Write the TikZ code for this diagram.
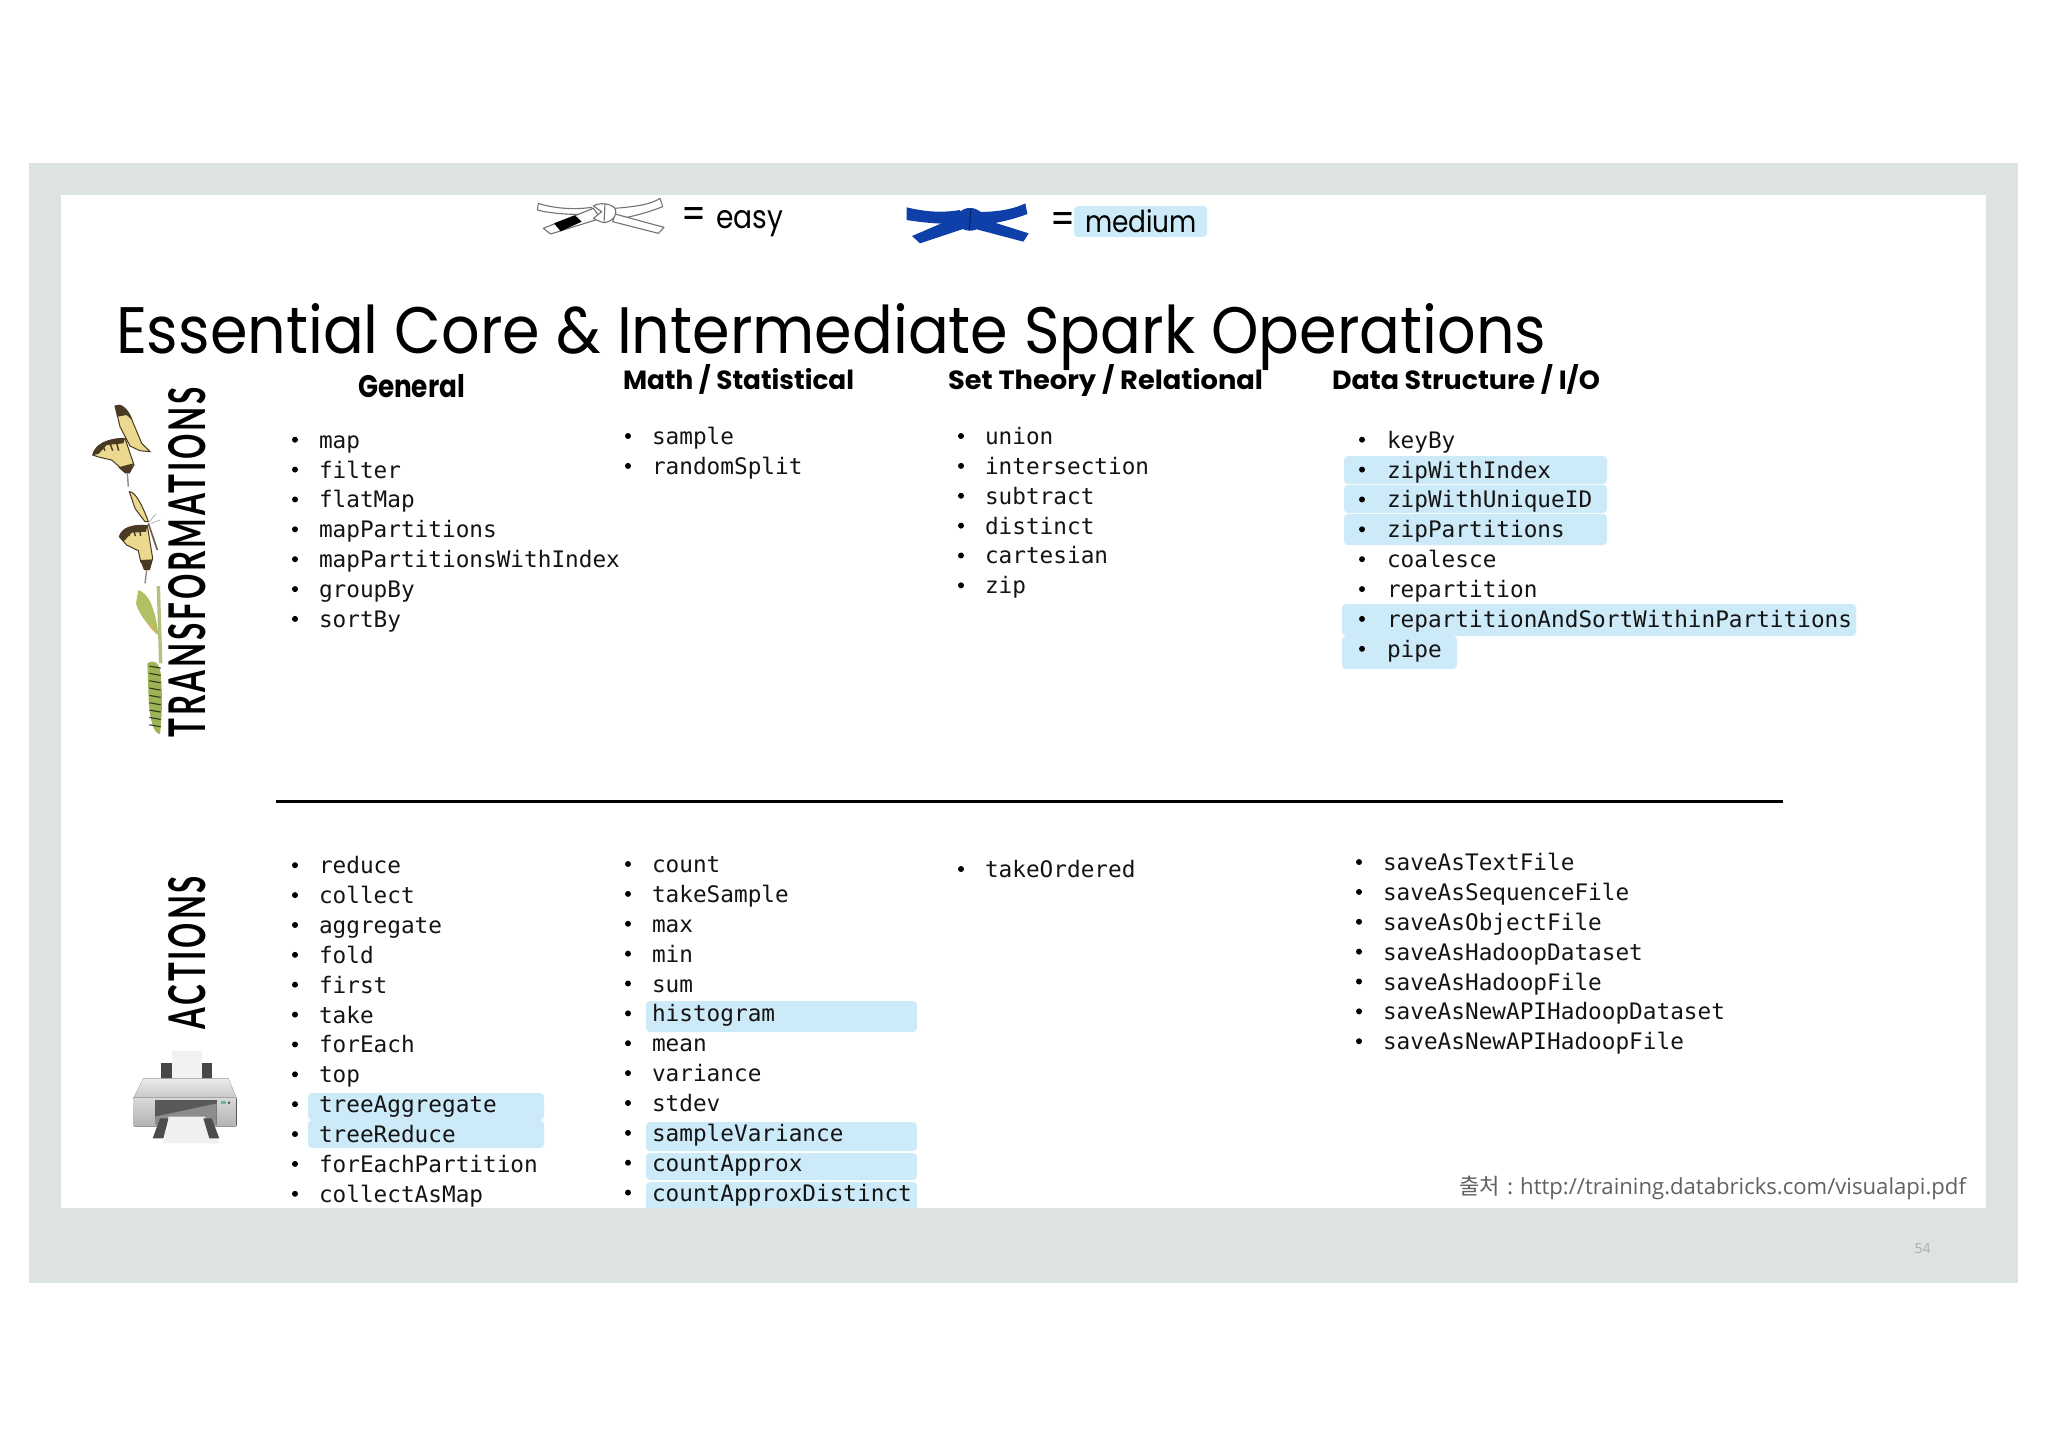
\documentclass[tikz,border=0pt]{standalone}
\usepackage{fontspec}
\usepackage{graphicx}
\setmainfont{Poppins}
\setmonofont{DejaVu Sans Mono}
\newfontfamily\latofont[LetterSpace=9]{Lato}
\newfontfamily\cjkfont{Noto Sans CJK KR}
\newfontfamily\notefont{Open Sans}
\newdimen\pxu \pxu=0.5pt
\definecolor{framegrey}{HTML}{DDE3E2}
\definecolor{hilite}{HTML}{CDEAF8}
\definecolor{beltblue}{HTML}{0F3FA8}
\definecolor{wingyellow}{HTML}{EBD98F}
\definecolor{wingbrown}{HTML}{4A3A24}
\definecolor{catgreen}{HTML}{9DB356}
\definecolor{catdark}{HTML}{2F3A1A}
\definecolor{chrysgreen}{HTML}{AFC163}
\definecolor{stemgreen}{HTML}{B3C184}
\tikzset{
  hl/.style={fill=hilite,rounded corners=4\pxu},
  fit text/.style={inner sep=0pt,outer sep=0pt,anchor=base west},
  item text/.style={inner sep=0pt,anchor=base west,font=\ttfamily\fontsize{11.36pt}{13pt}\selectfont,text=black!92},
  item dot/.style={circle,fill=black,inner sep=0pt,minimum size=3pt},
  belt w/.style={fill=white,draw=black!55,line width=1.1\pxu,line join=round},
  belt b/.style={fill=beltblue,line join=round},
}
% name, bullet x, text x, first baseline, items
\newcommand{\opslist}[5]{%
  \foreach \itm [count=\n from 0] in {#5}{%
    \pgfmathsetmacro{\yy}{#4+29.87*\n}
    \node[item dot] (#1d\n) at (#2,\yy-8.0) {};
    \node[item text] (#1t\n) at (#3-0.4,\yy+0.5) {\itm};
  }%
}
\newcommand{\fitted}[3]{\resizebox{#1\pxu}{#2\pxu}{#3}}
\begin{document}
\begin{tikzpicture}[x=0.5pt,y=-0.5pt]
\useasboundingbox (0,0) rectangle (2048,1447);
\fill[white] (0,0) rectangle (2048,1447);
\fill[framegrey] (29,163) rectangle (2018,1283);
\fill[white] (60.5,195) rectangle (1986,1208);

% highlights
\fill[hl] (1344,456) rectangle (1607,484);
\fill[hl] (1344,485) rectangle (1607,513);
\fill[hl] (1344,514) rectangle (1607,545);
\fill[hl] (1342,604) rectangle (1856,636);
\fill[hl] (1342,636) rectangle (1457,669);
\fill[hl] (308,1093) rectangle (544,1120);
\fill[hl] (308,1120) rectangle (544,1148);
\fill[hl] (646,1001) rectangle (917,1032);
\fill[hl] (646,1122) rectangle (917,1151);
\fill[hl] (646,1153) rectangle (917,1180);
\fill[hl] (646,1182) rectangle (917,1215);
\fill[hl] (1074,206) rectangle (1207,237);

% title and headings
\node[fit text] (title) at (116,353) {\fitted{1430}{50}{Essential Core \& Intermediate Spark Operations}};
\node[fit text] (hgen) at (358,397) {\fitted{107}{23}{\bfseries General}};
\node[fit text] (hmath) at (623,389) {\fitted{231}{25}{\bfseries Math / Statistical}};
\node[fit text] (hset) at (948,389) {\fitted{315}{25}{\bfseries Set Theory / Relational}};
\node[fit text] (hdata) at (1332,389) {\fitted{268}{25}{\bfseries Data Structure / I/O}};

% legend
\node[fit text] (eq1) at (681,228) {\fitted{25}{21}{=}};
\node[fit text] (easy) at (716,228) {\fitted{67}{18}{easy}};
\node[fit text] (eq2) at (1050,233) {\fitted{25}{21}{=}};
\node[fit text] (medium) at (1085,232) {\fitted{112}{23}{medium}};

% white belt
\begin{scope}[shift={(530,190)},x=0.1667pt,y=-0.1667pt]
  \draw[belt w] (255,55) .. controls (310,50) and (360,45) .. (390,25) -- (398,50) .. controls (360,65) and (310,80) .. (258,88) -- cycle;
  \draw[belt w] (255,72) -- (402,112) -- (385,130) -- (248,95) -- cycle;
  \draw[belt w] (185,52) .. controls (130,60) and (70,55) .. (25,40) -- (22,60) .. controls (70,72) and (130,75) .. (190,72) -- cycle;
  \draw[belt w] (40,115) -- (190,55) -- (212,85) -- (62,132) -- cycle;
  \fill[black] (72,100) -- (135,76) -- (155,95) -- (92,124) -- cycle;
  \draw[belt w] (190,48) .. controls (205,38) and (240,38) .. (255,55) .. controls (262,70) and (255,90) .. (225,98) .. controls (215,98) and (200,90) .. (190,85) -- (215,65) -- cycle;
  \draw[black!55,line width=1.1\pxu] (225,40) -- (222,98);
\end{scope}

% blue belt
\begin{scope}[shift={(900,190)},x=0.1667pt,y=-0.1667pt]
  \fill[belt b] (235,66) .. controls (290,66) and (340,58) .. (376,40) -- (382,72) .. controls (340,88) and (290,100) .. (250,104) -- cycle;
  \fill[belt b] (240,84) -- (386,130) -- (370,155) -- (230,118) -- cycle;
  \fill[belt b] (180,60) .. controls (120,70) and (70,64) .. (20,52) -- (20,90) .. controls (70,98) and (130,104) .. (180,100) -- cycle;
  \fill[belt b] (36,138) -- (180,76) -- (204,112) -- (60,160) -- cycle;
  \fill[belt b] (210,88) ellipse [x radius=42,y radius=34];
  \draw[black!50!beltblue,line width=1\pxu] (212,58) -- (208,120);
\end{scope}

% rotated labels
\node[fit text,rotate=90] (ltrans) at (205,737) {\fitted{350}{37}{\latofont\bfseries TRANSFORMATIONS}};
\node[fit text,rotate=90] (lact) at (205.5,1029) {\fitted{153}{37}{\latofont\bfseries ACTIONS}};

% butterflies, chrysalis, caterpillar
\begin{scope}[shift={(70,380)},x=0.1667pt,y=-0.1667pt]
  % top butterfly
  \fill[wingyellow,draw=wingbrown,line width=.5pt] (135,78) .. controls (150,68) and (175,85) .. (188,125) -- (215,190) -- (240,215) -- (210,212) -- (180,198) -- (150,140) -- cycle;
  \fill[wingbrown] (135,78) .. controls (150,68) and (175,85) .. (186,120) -- (170,105) -- (142,110) -- cycle;
  \fill[wingyellow,draw=wingbrown,line width=.5pt] (68,225) .. controls (75,195) and (110,175) .. (165,175) -- (192,255) -- (178,278) -- (150,262) -- (125,240) -- (90,232) -- cycle;
  \fill[wingbrown] (68,225) .. controls (75,195) and (110,175) .. (165,175) -- (160,190) -- (110,195) -- (85,222) -- cycle;
  \foreach \xa/\xb in {95/105,120/128,140/146}
    \draw[wingbrown,line width=.7pt] (\xa,190) -- (\xb,212);
  \fill[wingbrown] (145,262) -- (190,250) -- (180,280) -- (165,280) -- cycle;
  \draw[wingbrown!60,line width=.7pt] (172,280) -- (175,320);
  % second butterfly
  \fill[wingyellow,draw=wingbrown,line width=.5pt] (178,335) .. controls (195,335) and (215,370) .. (235,425) -- (225,425) -- (195,385) -- cycle;
  \fill[wingyellow,draw=wingbrown,line width=.5pt] (148,470) .. controls (155,445) and (185,432) .. (232,437) -- (248,535) -- (238,565) -- (212,545) -- (205,512) -- (170,495) -- cycle;
  \fill[wingbrown] (148,470) .. controls (155,445) and (185,432) .. (232,437) -- (228,455) -- (185,458) -- (160,485) -- cycle;
  \foreach \xa/\xb in {170/178,190/196,208/212}
    \draw[wingbrown,line width=.7pt] (\xa,445) -- (\xb,468);
  \fill[wingbrown] (210,540) -- (248,538) -- (240,570) -- (222,570) -- cycle;
  \draw[wingbrown!80,line width=.85pt] (235,430) -- (262,510);
  \draw[black!35,line width=.35pt] (238,425) -- (258,402) (242,430) -- (270,420);
  \draw[wingbrown!60,line width=.7pt] (230,570) -- (225,610);
  % stem and chrysalis
  \draw[stemgreen,line width=1.7pt] (265,618) -- (272,850);
  \fill[chrysgreen] (205,630) .. controls (235,640) and (255,680) .. (265,765) .. controls (240,745) and (205,700) .. (198,670) -- cycle;
  \fill[orange!50!olive!60!white] (232,725) .. controls (245,730) and (255,745) .. (265,765) .. controls (250,755) and (240,745) .. (232,725) -- cycle;
  % caterpillar
  \fill[catgreen] (232,850) .. controls (250,838) and (268,845) .. (272,880) .. controls (278,950) and (276,1010) .. (270,1062) .. controls (250,1060) and (240,1020) .. (236,960) -- cycle;
  \foreach \yy in {858,880,...,1050}
    \draw[catdark,line width=.55pt] (238,\yy) -- (272,\yy+6);
\end{scope}

% printer
\begin{scope}[shift={(100,860)},x=0.1667pt,y=-0.1667pt]
  \fill[black!5] (215,572) -- (305,572) -- (305,675) -- (215,675) -- cycle;
  \fill[black!72] (182,610) rectangle (215,675);
  \fill[black!72] (305,610) rectangle (335,675);
  \fill[top color=black!8,bottom color=black!22] (130,655) -- (385,655) -- (410,715) -- (100,715) -- cycle;
  \fill[top color=black!15,bottom color=black!30,rounded corners=1pt] (100,712) rectangle (410,800);
  \fill[black!65] (165,720) rectangle (350,795);
  \fill[black!45] (165,770) -- (350,730) -- (350,795) -- (165,795) -- cycle;
  \fill[black!6] (205,770) -- (315,770) -- (360,850) -- (190,850) -- cycle;
  \fill[black!70] (180,775) -- (205,775) -- (190,835) -- (158,835) -- cycle;
  \fill[black!70] (310,775) -- (335,775) -- (358,835) -- (328,835) -- cycle;
  \fill[teal!60] (362,722) rectangle (378,732);
  \fill[black!70] (387,728) circle (4);
\end{scope}

% divider
\coordinate (divl) at (276,801);
\coordinate (divr) at (1783,801);
\draw[black,line width=3\pxu] (divl) -- (divr);

% transformations
\opslist{ga}{295}{319}{447.7}{map,filter,flatMap,mapPartitions,mapPartitionsWithIndex,groupBy,sortBy}
\opslist{ma}{628}{652}{444}{sample,randomSplit}
\opslist{sa}{961}{985}{444}{union,intersection,subtract,distinct,cartesian,zip}
\opslist{da}{1362}{1387}{447.7}{keyBy,zipWithIndex,zipWithUniqueID,zipPartitions,coalesce,repartition,repartitionAndSortWithinPartitions,pipe}

% actions
\opslist{gb}{295}{319}{873.2}{reduce,collect,aggregate,fold,first,take,forEach,top,treeAggregate,treeReduce,forEachPartition,collectAsMap}
\opslist{mb}{628}{652}{872}{count,takeSample,max,min,sum,histogram,mean,variance,stdev,sampleVariance,countApprox,countApproxDistinct}
\opslist{sb}{961}{985}{877}{takeOrdered}
\opslist{db}{1359}{1383}{870}{saveAsTextFile,saveAsSequenceFile,saveAsObjectFile,saveAsHadoopDataset,saveAsHadoopFile,saveAsNewAPIHadoopDataset,saveAsNewAPIHadoopFile}

% source and bottom band
\fill[framegrey] (29,1208) rectangle (2018,1283);
\node[fit text,text=black!62] (src) at (1459,1194) {\resizebox{507\pxu}{!}{\cjkfont 출처\hspace{.35em}:\hspace{.3em}\notefont http://training.databricks.com/visualapi.pdf}};
\node[fit text,text=black!32,font=\notefont\fontsize{7pt}{8pt}\selectfont] (pg) at (1914.5,1253) {54};
\end{tikzpicture}
\end{document}
